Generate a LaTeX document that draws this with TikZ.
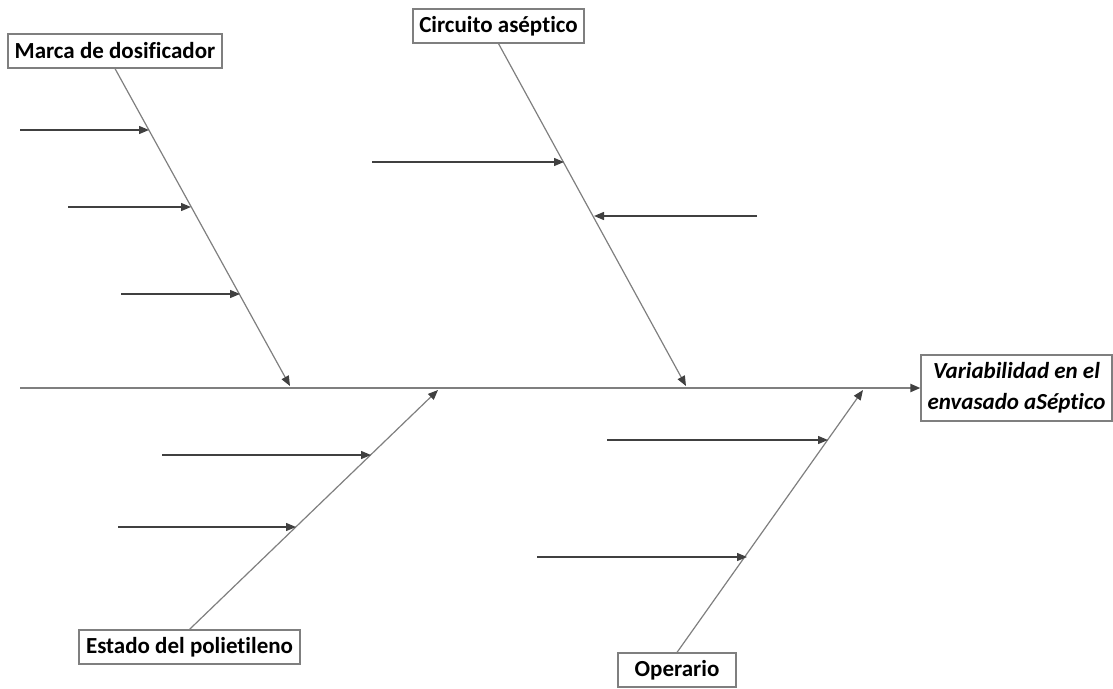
\documentclass[tikz,border=0pt]{standalone}
\usepackage{fontspec}
\setmainfont[Ligatures=NoCommon]{Carlito}
\usetikzlibrary{arrows.meta}
\definecolor{bonegray}{HTML}{7F7F7F}
\definecolor{subgray}{HTML}{404040}
\begin{document}
\begin{tikzpicture}[x=1pt,y=-1pt,
  cause/.style={draw=bonegray,line width=1.2pt,fill=white,inner sep=0pt,
    minimum height=34pt,font=\fontsize{23}{27}\selectfont\bfseries},
  effect/.style={draw=bonegray,line width=1.2pt,fill=white,inner sep=0pt,
    align=center,minimum width=191pt,minimum height=66pt,
    font=\fontsize{23}{31}\selectfont\bfseries\itshape},
  tip/.style={-{Triangle[length=10pt,width=8pt,color=subgray]}},
  spine/.style={tip,draw=bonegray,line width=2pt},
  bone/.style={tip,draw=bonegray,line width=1.2pt},
  sub/.style={tip,draw=subgray,line width=1.3pt}]
\useasboundingbox (0,0) rectangle (1113,688);

% effect and the four causes
\node[effect] (efecto) at (1016.5,388) {Variabilidad en el\\envasado aSéptico};
\node[cause,minimum width=214pt] (marca) at (115,51) {Marca de dosificador};
\node[cause,minimum width=171pt] (circuito) at (498.5,26) {Circuito aséptico};
\node[cause,minimum width=221pt] (estado) at (189.5,647) {Estado del polietileno};
\node[cause,minimum width=118pt] (operario) at (677,670) {Operario};

% spine
\coordinate (s0) at (20,388);
\draw[spine] (s0) -- (efecto.west);

% bone ends on the spine
\coordinate (mEnd) at (290,386);
\coordinate (cEnd) at (686,386);
\coordinate (eEnd) at (438,390);
\coordinate (oEnd) at (863,390);
\draw[bone] (marca.south) -- (mEnd);
\draw[bone] (circuito.south) -- (cEnd);
\draw[bone] (estado.north) -- (eEnd);
\draw[bone] (operario.north) -- (oEnd);

% sub-causes: Marca de dosificador
\coordinate (m1a) at (20,130);  \coordinate (m1b) at (149,130);
\coordinate (m2a) at (68,207);  \coordinate (m2b) at (191,207);
\coordinate (m3a) at (121,294); \coordinate (m3b) at (240,294);
\draw[sub] (m1a) -- (m1b);
\draw[sub] (m2a) -- (m2b);
\draw[sub] (m3a) -- (m3b);

% sub-causes: Circuito aséptico
\coordinate (c1a) at (372,162); \coordinate (c1b) at (564,162);
\coordinate (c2a) at (757,216); \coordinate (c2b) at (594,216);
\draw[sub] (c1a) -- (c1b);
\draw[sub] (c2a) -- (c2b);

% sub-causes: Estado del polietileno
\coordinate (e1a) at (162,455); \coordinate (e1b) at (371,455);
\coordinate (e2a) at (118,527); \coordinate (e2b) at (296,527);
\draw[sub] (e1a) -- (e1b);
\draw[sub] (e2a) -- (e2b);

% sub-causes: Operario
\coordinate (o1a) at (607,440); \coordinate (o1b) at (828,440);
\coordinate (o2a) at (537,557); \coordinate (o2b) at (747,557);
\draw[sub] (o1a) -- (o1b);
\draw[sub] (o2a) -- (o2b);
\end{tikzpicture}
\end{document}
